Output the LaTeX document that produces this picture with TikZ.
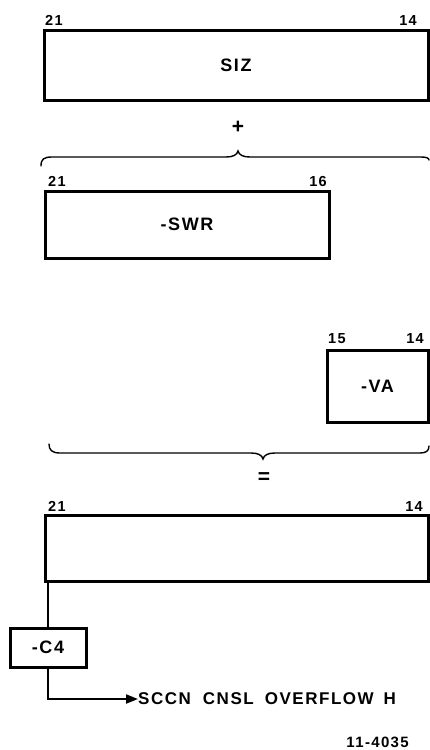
\documentclass[tikz,border=0pt]{standalone}
\usepackage{fontspec}
\setmainfont{Liberation Sans}
\newfontfamily\lr[LetterSpace=9]{Liberation Sans Bold}
\usetikzlibrary{arrows.meta}
\begin{document}
\begin{tikzpicture}[x=1pt,y=-1pt,
  regbox/.style={draw=black,line width=3pt,rectangle,inner sep=0pt,font=\lr\fontsize{18}{18}\selectfont},
  bitlbl/.style={inner sep=0pt,font=\lr\fontsize{14.5}{14.5}\selectfont},
  opsym/.style={inner sep=0pt,font=\bfseries\fontsize{21}{21}\selectfont},
  brace/.style={line width=1.4pt,line cap=round},
  wire/.style={line width=2pt},
  txt/.style={inner sep=0pt,font=\lr\fontsize{17}{17}\selectfont}]
\useasboundingbox (0,0) rectangle (429,750);
% SIZ register
\node[regbox,minimum width=384pt,minimum height=70pt] (siz) at (236,65) {SIZ};
\node[bitlbl,anchor=base west] (sizl) at (45,25) {21};
\node[bitlbl,anchor=base east] (sizr) at (417,25) {14};
% plus
\node[opsym] (plus) at (238,127) {+};
% top brace
\draw[brace] (41,166) .. controls (41,159) and (44,157) .. (52,157) -- (226,157)
  .. controls (233,157) and (237,155) .. (238,151)
  .. controls (239,155) and (243,157) .. (250,157) -- (421,157)
  .. controls (426,157) and (429,158) .. (429,160);
% SWR
\node[regbox,minimum width=284pt,minimum height=67pt] (swr) at (187,224.5) {-SWR};
\node[bitlbl,anchor=base west] (swrl) at (48,186) {21};
\node[bitlbl,anchor=base east] (swrr) at (327,186) {16};
% VA
\node[regbox,minimum width=101pt,minimum height=72pt] (va) at (377.5,386) {-VA};
\node[bitlbl,anchor=base west] (val) at (328,343) {15};
\node[bitlbl,anchor=base east] (var) at (424,343) {14};
% bottom brace
\draw[brace] (49,444) .. controls (49,450) and (52,453) .. (60,453) -- (251,453)
  .. controls (258,453) and (262,455) .. (263,459)
  .. controls (264,455) and (268,453) .. (275,453) -- (420,453)
  .. controls (426,453) and (429,451) .. (429,446);
% equals
\node[opsym] (eq) at (264,478) {=};
% result
\node[regbox,minimum width=383pt,minimum height=66pt] (res) at (236.5,548) {};
\node[bitlbl,anchor=base west] (resl) at (48,511) {21};
\node[bitlbl,anchor=base east] (resr) at (423,511) {14};
% C4
\node[regbox,minimum width=76pt,minimum height=39pt] (c4) at (48,647.5) {-C4};
\node[txt,anchor=west] (out) at (138,699) {SCCN\hspace{12pt}CNSL\hspace{11pt}OVERFLOW\hspace{10pt}H};
\draw[wire] (c4.north) -- (c4.north |- res.south);
\draw[wire,-{Triangle[length=12pt,width=9pt]}] (c4.south) |- (out.west);
% figure number
\node[inner sep=0pt,anchor=base east,font=\lr\fontsize{15}{15}\selectfont] (fig) at (409,747) {11-4035};
\end{tikzpicture}
\end{document}
